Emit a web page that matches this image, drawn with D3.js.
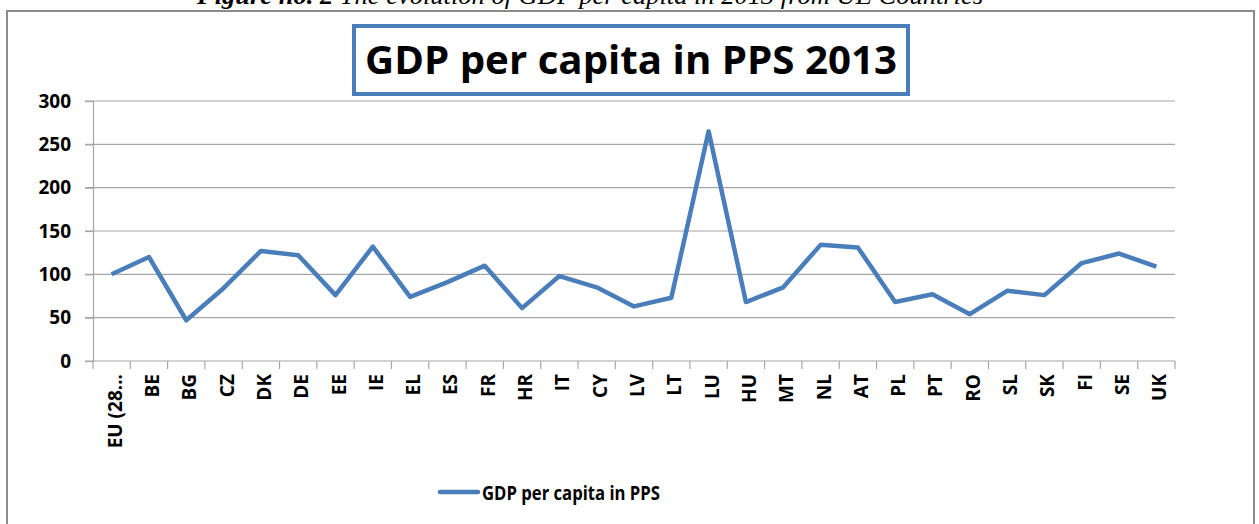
<!DOCTYPE html>
<html>
<head>
<meta charset="utf-8">
<script src="https://cdn.jsdelivr.net/npm/d3@7"></script>
<style>
  body { margin: 0; background: #fff; }
  svg { display: block; }
</style>
</head>
<body>
<div id="container"></div>
<script>
	var countries = ["EU (28...", "BE", "BG", "CZ", "DK", "DE", "EE", "IE", "EL", "ES", "FR", "HR", "IT", "CY",
		"LV", "LT", "LU", "HU", "MT", "NL", "AT", "PL", "PT", "RO", "SL", "SK", "FI", "SE", "UK"];
	var gdpValues = [100, 120, 47, 84, 127, 122, 76, 132, 74, 91, 110, 61, 98, 85,
		63, 73, 265, 68, 85, 134, 131, 68, 77, 54, 81, 76, 113, 124, 109];
	var yTicks = [0, 50, 100, 150, 200, 250, 300];
	var seriesName = "GDP per capita in PPS";
	var chartTitle = "GDP per capita in PPS 2013";
	var captionBold = "Figure no. 2 ";
	var captionRest = "The evolution of GDP per capita in 2013 from UE Countries";

	var width = 1259, height = 524;
	var margin = {left: 93, right: 84, top: 101, bottom: 163};
	var blue = "#4a7ebb";
	var font = "Open Sans, DejaVu Sans, sans-serif";

	var svg = d3.select('#container')
		.append('svg')
		.attr('width', width)
		.attr('height', height);

	// caption, cut off at the top like in the source page
	var cap = svg.append('text')
		.attr('x', 197)
		.attr('y', 4)
		.attr('textLength', 786)
		.attr('lengthAdjust', 'spacingAndGlyphs')
		.style('font-family', 'Liberation Serif, serif')
		.style('font-style', 'italic')
		.style('font-size', '25px');
	cap.append('tspan').style('font-weight', 'bold').text(captionBold);
	cap.append('tspan').text(captionRest);

	// outer chart border
	svg.append('rect')
		.attr('x', 7)
		.attr('y', 11)
		.attr('width', 1247)
		.attr('height', 540)
		.style('fill', 'none')
		.style('stroke', '#8c8c8c')
		.style('stroke-width', 2);

	// title box
	svg.append('rect')
		.attr('x', 354)
		.attr('y', 26)
		.attr('width', 554)
		.attr('height', 68)
		.style('fill', 'white')
		.style('stroke', blue)
		.style('stroke-width', 4);

	svg.append('text')
		.attr('x', 631)
		.attr('y', 74)
		.attr('text-anchor', 'middle')
		.attr('textLength', 532)
		.attr('lengthAdjust', 'spacingAndGlyphs')
		.style('font-family', font)
		.style('font-weight', 'bold')
		.style('font-size', '40px')
		.text(chartTitle);

	var x = d3.scaleBand()
		.domain(countries)
		.range([margin.left, width - margin.right]);

	var y = d3.scaleLinear()
		.domain([0, 300])
		.range([height - margin.bottom, margin.top]);

	// gridlines
	svg.append('g')
		.selectAll('line')
		.data(yTicks.filter(function(d){return d > 0}))
		.enter().append('line')
		.attr('x1', margin.left - 8)
		.attr('x2', width - margin.right)
		.attr('y1', function(d){return y(d)})
		.attr('y2', function(d){return y(d)})
		.style('stroke', '#a6a6a6')
		.style('stroke-width', 1.2);

	// y axis
	var yAxis = svg.append('g')
		.attr('transform', 'translate(' + margin.left + ',0)')
		.call(d3.axisLeft(y).tickValues(yTicks).tickSize(8).tickPadding(14));
	yAxis.select('.domain').style('stroke', '#a6a6a6').style('stroke-width', 1.2);
	yAxis.selectAll('.tick line').style('stroke', '#a6a6a6').style('stroke-width', 1.2);
	yAxis.selectAll('text')
		.style('font-family', font)
		.style('font-weight', 'bold')
		.style('font-size', '19px')
		.style('fill', '#000');

	// x axis with ticks on band boundaries
	var xAxis = svg.append('g')
		.attr('transform', 'translate(0,' + y(0) + ')');
	xAxis.append('line')
		.attr('x1', margin.left - 8)
		.attr('x2', width - margin.right)
		.style('stroke', '#a6a6a6')
		.style('stroke-width', 1.2);
	xAxis.selectAll('line.tk')
		.data(countries.concat(['end']))
		.enter().append('line')
		.attr('class', 'tk')
		.attr('x1', function(d, i){return margin.left + i * x.step()})
		.attr('x2', function(d, i){return margin.left + i * x.step()})
		.attr('y1', 0)
		.attr('y2', 8)
		.style('stroke', '#a6a6a6')
		.style('stroke-width', 1.2);
	xAxis.selectAll('text')
		.data(countries)
		.enter().append('text')
		.attr('transform', function(d){
			return 'translate(' + (x(d) + x.bandwidth() / 2 + 10) + ',13) rotate(-90)';
		})
		.attr('text-anchor', 'end')
		.style('font-family', font)
		.style('font-weight', 'bold')
		.style('font-size', '19px')
		.text(function(d){return d});

	// series line
	var line = d3.line()
		.x(function(d, i){return x(countries[i]) + x.bandwidth() / 2})
		.y(function(d){return y(d)});

	svg.append('path')
		.datum(gdpValues)
		.attr('d', line)
		.style('fill', 'none')
		.style('stroke', blue)
		.style('stroke-width', 4.5)
		.style('stroke-linejoin', 'round');

	// legend
	svg.append('line')
		.attr('x1', 440)
		.attr('x2', 478)
		.attr('y1', 492)
		.attr('y2', 492)
		.style('stroke', blue)
		.style('stroke-width', 4.5)
		.style('stroke-linecap', 'round');
	svg.append('text')
		.attr('x', 482)
		.attr('y', 500)
		.attr('textLength', 178)
		.attr('lengthAdjust', 'spacingAndGlyphs')
		.style('font-family', font)
		.style('font-weight', 'bold')
		.style('font-size', '20px')
		.text(seriesName);
</script>
</body>
</html>
